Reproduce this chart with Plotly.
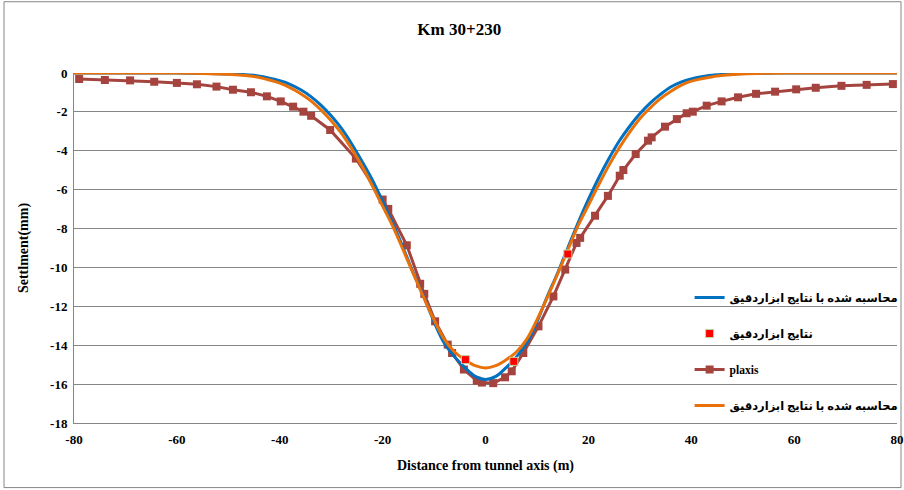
import plotly.graph_objects as go

# ---- data ----
plaxis_x = [-79.0, -74.0, -69.1, -64.4, -60.0, -56.1, -52.3, -49.1, -45.6, -42.5, -39.8, -37.4,
            -35.4, -33.9, -30.2, -25.2, -20.0, -18.9, -15.3, -12.7, -11.9, -9.8, -7.35, -6.5,
            -4.2, -1.7, -0.7, 1.5, 3.8, 5.1, 7.35, 10.3, 13.2, 15.5, 17.7, 18.4, 21.3, 23.8,
            26.1, 26.8, 29.2, 31.6, 32.3, 34.9, 37.2, 39.1, 40.3, 43.0, 45.9, 49.1, 52.6,
            56.3, 60.4, 64.2, 69.2, 74.1, 79.2]
plaxis_y = [-0.31, -0.36, -0.38, -0.45, -0.51, -0.58, -0.70, -0.86, -0.99, -1.20, -1.46, -1.73,
            -1.99, -2.20, -2.93, -4.40, -6.51, -6.99, -8.86, -10.84, -11.36, -12.77, -13.97, -14.40,
            -15.25, -15.82, -15.92, -15.95, -15.65, -15.34, -14.40, -13.03, -11.49, -10.11, -8.74, -8.48,
            -7.34, -6.32, -5.28, -4.99, -4.17, -3.48, -3.31, -2.76, -2.37, -2.07, -1.99, -1.68,
            -1.46, -1.25, -1.07, -0.96, -0.84, -0.76, -0.66, -0.61, -0.57]

calc_x = [-80, -70, -60, -55, -50, -45, -42, -40, -38, -36, -34, -32, -30, -28, -26, -24, -22, -20,
          -18, -16, -14, -12, -10, -8, -6, -4, -2, 0, 2, 4, 6, 8, 10, 12, 14, 16, 18, 20, 22, 24,
          26, 28, 30, 32, 34, 36, 38, 40, 42, 45, 50, 55, 60, 70, 80]
blue_y = [0, 0, 0, -0.02, -0.05, -0.12, -0.27, -0.40, -0.58, -0.85, -1.20, -1.65, -2.20, -2.85,
          -3.65, -4.55, -5.50, -6.60, -7.75, -9.00, -10.30, -11.50, -12.80, -13.90, -14.60, -15.15,
          -15.60, -15.76, -15.60, -15.15, -14.60, -13.90, -12.80, -11.50, -10.30, -9.00, -7.70,
          -6.50, -5.40, -4.40, -3.50, -2.75, -2.10, -1.55, -1.10, -0.72, -0.47, -0.30, -0.19,
          -0.09, -0.03, -0.01, 0, 0, 0]
orange_y = [0, 0, 0, -0.02, -0.07, -0.18, -0.36, -0.52, -0.75, -1.05, -1.42, -1.90, -2.45, -3.10,
            -3.90, -4.80, -5.80, -6.85, -7.90, -9.10, -10.35, -11.55, -12.70, -13.70, -14.35, -14.75,
            -15.05, -15.17, -15.05, -14.75, -14.35, -13.70, -12.70, -11.55, -10.35, -9.10, -7.85,
            -6.80, -5.75, -4.75, -3.85, -3.05, -2.35, -1.80, -1.32, -0.95, -0.64, -0.42, -0.30,
            -0.15, -0.05, -0.01, 0, 0, 0]

meas_x = [-3.9, 5.5, 16.0]
meas_y = [-14.74, -14.83, -9.31]

x_ticks = [-80, -60, -40, -20, 0, 20, 40, 60, 80]
y_ticks = [0, -2, -4, -6, -8, -10, -12, -14, -16, -18]

name_calc = "محاسبه شده با نتایج ابزاردقیق"
name_meas = "نتایج ابزاردقیق"
name_plaxis = "plaxis"

SERIF = "Liberation Serif, Times New Roman, DejaVu Sans"

fig = go.Figure()
fig.add_trace(go.Scatter(x=plaxis_x, y=plaxis_y, name=name_plaxis, mode="lines+markers",
                         line=dict(color="#A5443F", width=3),
                         marker=dict(symbol="square", size=8, color="#A5443F"),
                         legendrank=3, legendgroup="c"))
fig.add_trace(go.Scatter(x=calc_x, y=blue_y, name=name_calc, mode="lines",
                         line=dict(color="#0070C0", width=3, shape="spline"),
                         legendrank=1, legendgroup="a"))
fig.add_trace(go.Scatter(x=calc_x, y=orange_y, name=name_calc, mode="lines",
                         line=dict(color="#E8710A", width=3, shape="spline"),
                         legendrank=4, legendgroup="d"))
fig.add_trace(go.Scatter(x=meas_x, y=meas_y, name=name_meas, mode="markers",
                         marker=dict(symbol="square", size=8, color="#FF0000",
                                     line=dict(color="#C3D69B", width=1)),
                         legendrank=2, legendgroup="b"))

fig.update_layout(
    width=904, height=490,
    margin=dict(l=74, r=7, t=73, b=67, autoexpand=False),
    paper_bgcolor="white", plot_bgcolor="white",
    title=dict(text="Km 30+230", x=0.508, xanchor="center", y=0.94, yanchor="middle",
               font=dict(family=SERIF, size=17, color="black", weight="bold")),
    showlegend=True,
    legend=dict(x=0.748, y=0.40, xanchor="left", yanchor="top", bgcolor="rgba(0,0,0,0)",
                font=dict(family=SERIF, size=11.5, color="black", weight="bold"),
                tracegroupgap=17, itemwidth=30, traceorder="grouped"),
    xaxis=dict(range=[-80, 80], tickvals=x_ticks, ticktext=[str(v) for v in x_ticks],
               showgrid=False, zeroline=False, showline=True, linecolor="#868686", linewidth=1,
               ticks="outside", ticklen=4, tickcolor="rgba(0,0,0,0)",
               tickfont=dict(family=SERIF, size=13, color="black", weight="bold"),
               title=dict(text="Distance from tunnel axis (m)", standoff=14,
                          font=dict(family=SERIF, size=14, color="black", weight="bold"))),
    yaxis=dict(range=[-18, 0], tickvals=y_ticks, ticktext=[str(v) for v in y_ticks],
               showgrid=True, gridcolor="#868686", gridwidth=1, zeroline=False,
               showline=True, linecolor="#868686", linewidth=1, ticks="outside", ticklen=3,
               tickcolor="rgba(0,0,0,0)",
               tickfont=dict(family=SERIF, size=13, color="black", weight="bold"),
               title=dict(text="Settlment(mm)", standoff=18,
                          font=dict(family=SERIF, size=14, color="black", weight="bold"))),
    shapes=[dict(type="rect", xref="paper", yref="paper",
                 x0=(4 - 74) / 823, x1=(901 - 74) / 823,
                 y0=(423.4 - 488) / 350.1, y1=(423.4 - 2) / 350.1,
                 line=dict(color="#868686", width=1), fillcolor="rgba(0,0,0,0)", layer="below")],
)

fig.write_html("out.html")
